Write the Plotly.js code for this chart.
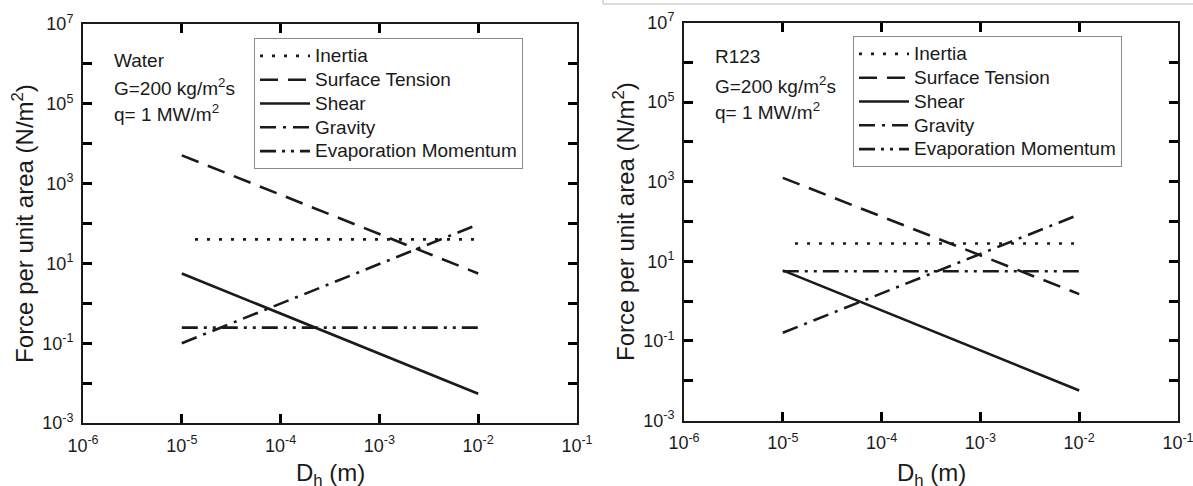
<!DOCTYPE html>
<html>
<head>
<meta charset="utf-8">
<script src="https://cdn.plot.ly/plotly-3.0.1.min.js"></script>
<style>html,body{margin:0;padding:0;background:#fff;}#chart{width:1193px;height:486px;}</style>
</head>
<body>
<div id="chart"></div>
<script>
// ---- data ----
const seriesNames = ["Inertia", "Surface Tension", "Shear", "Gravity", "Evaporation Momentum"];

// Water (left panel)
const waterInertiaX = [1.36e-5, 1e-2];
const waterInertia  = [40, 40];
const waterX        = [1e-5, 1e-2];
const waterSurface  = [5100, 5.6];
const waterShear    = [5.6, 0.0054];
const waterGravity  = [0.1, 95];
const waterEvap     = [0.245, 0.245];

// R123 (right panel)
const r123InertiaX = [1.33e-5, 1e-2];
const r123Inertia  = [28, 28];
const r123X        = [1e-5, 1e-2];
const r123Surface  = [1250, 1.5];
const r123Shear    = [5.9, 0.0057];
const r123Gravity  = [0.16, 150];
const r123Evap     = [5.6, 5.6];

const xTickVals = [1e-6, 1e-5, 1e-4, 1e-3, 1e-2, 1e-1];
const xTickText = ["10<sup>-6</sup>", "10<sup>-5</sup>", "10<sup>-4</sup>", "10<sup>-3</sup>", "10<sup>-2</sup>", "10<sup>-1</sup>"];
const yTickVals = [1e-3, 1e-2, 1e-1, 1e0, 1e1, 1e2, 1e3, 1e4, 1e5, 1e6, 1e7];
const yTickText = ["10<sup>-3</sup>", "", "10<sup>-1</sup>", "", "10<sup>1</sup>", "", "10<sup>3</sup>", "", "10<sup>5</sup>", "", "10<sup>7</sup>"];

const panelNotes = [
  ["Water", "G=200 kg/m<sup>2</sup>s", "q= 1 MW/m<sup>2</sup>"],
  ["R123", "G=200 kg/m<sup>2</sup>s", "q= 1 MW/m<sup>2</sup>"]
];

// ---- styling ----
const FONT = "Liberation Sans, Arial, sans-serif";
const INK = "#1a1a1a";
const dashes = ["3px,9px", "18px,10px", "solid", "16px,7px,3px,7px", "16px,6px,3px,6px,3px,6px"];
const LW = 2.6;
const W = 1193, H = 486;

function minorVals(lo, hi) {
  const v = [];
  for (let e = lo; e < hi; e++) for (let m = 2; m <= 9; m++) v.push(m * Math.pow(10, e));
  return v;
}

function legendName(s) { return '<span style="font-size:19px">' + s + '</span>'; }

function mk(name, x, y, i, xa, ya, leg) {
  return {
    type: "scatter", mode: "lines", name: legendName(name), x: x, y: y,
    xaxis: xa, yaxis: ya, legend: leg,
    line: {color: INK, width: LW, dash: dashes[i]}
  };
}

const traces = [
  mk(seriesNames[0], waterInertiaX, waterInertia, 0, "x", "y", "legend"),
  mk(seriesNames[1], waterX, waterSurface, 1, "x", "y", "legend"),
  mk(seriesNames[2], waterX, waterShear, 2, "x", "y", "legend"),
  mk(seriesNames[3], waterX, waterGravity, 3, "x", "y", "legend"),
  mk(seriesNames[4], waterX, waterEvap, 4, "x", "y", "legend"),
  mk(seriesNames[0], r123InertiaX, r123Inertia, 0, "x2", "y2", "legend2"),
  mk(seriesNames[1], r123X, r123Surface, 1, "x2", "y2", "legend2"),
  mk(seriesNames[2], r123X, r123Shear, 2, "x2", "y2", "legend2"),
  mk(seriesNames[3], r123X, r123Gravity, 3, "x2", "y2", "legend2"),
  mk(seriesNames[4], r123X, r123Evap, 4, "x2", "y2", "legend2")
];

function xAxis(domain, anchor) {
  return {
    type: "log", range: [-6, -1], domain: domain, anchor: anchor,
    showline: true, linecolor: INK, linewidth: 2, mirror: "ticks",
    ticks: "inside", ticklen: 9, tickwidth: 2.5, tickcolor: "#000",
    tickmode: "array", tickvals: xTickVals, ticktext: xTickText,
    tickfont: {family: FONT, size: 18, color: INK}, ticklabelstandoff: 5,
    ticklabeloverflow: "allow",
    showgrid: false, zeroline: false
  };
}
function yAxis(domain, anchor) {
  return {
    type: "log", range: [-3, 7], domain: domain, anchor: anchor,
    showline: true, linecolor: INK, linewidth: 2, mirror: "ticks",
    ticks: "inside", ticklen: 9, tickwidth: 2.5, tickcolor: "#000",
    tickmode: "array", tickvals: yTickVals, ticktext: yTickText,
    tickfont: {family: FONT, size: 18, color: INK}, ticklabelstandoff: 4,
    ticklabeloverflow: "allow",
    showgrid: false, zeroline: false,
    title: {text: "Force per unit area (N/m<sup>2</sup>)", font: {family: FONT, size: 24, color: INK}, standoff: 2}
  };
}
// overlay axes carrying only the minor (2..9) ticks, mirrored inside the frame
function minorAxis(overlay, anchor, range, vals) {
  return {
    type: "log", range: range, overlaying: overlay, anchor: anchor,
    showline: false, mirror: "ticks",
    ticks: "inside", ticklen: 5, tickwidth: 2, tickcolor: "#000",
    tickmode: "array", tickvals: vals, showticklabels: false,
    showgrid: false, zeroline: false
  };
}

const legendStyle = {
  xref: "paper", yref: "paper", xanchor: "left", yanchor: "top",
  bgcolor: "rgba(255,255,255,1)", bordercolor: "#8a8a8a", borderwidth: 1,
  font: {family: FONT, size: 16, color: INK}, itemwidth: 50, tracegroupgap: 0
};

const annotations = [];
const noteX = [112 / W, 713 / W];
const noteY = [[60, 87, 113], [57, 85, 111]];
panelNotes.forEach((lines, p) => {
  lines.forEach((t, k) => {
    annotations.push({
      text: t, xref: "paper", yref: "paper", x: noteX[p], y: 1 - noteY[p][k] / H,
      xanchor: "left", yanchor: "middle", showarrow: false,
      font: {family: FONT, size: 19, color: INK}
    });
  });
});
// x-axis titles, placed like the reference (bottom edge trims the subscript there too)
["x domain", "x2 domain"].forEach(ref => {
  annotations.push({
    text: "D<sub>h</sub> (m)", xref: ref, yref: "paper", x: 0.5, y: 1 - 457 / H,
    xanchor: "center", yanchor: "top", showarrow: false,
    font: {family: FONT, size: 24, color: INK}
  });
});

const layout = {
  width: W, height: H,
  margin: {l: 0, r: 0, t: 0, b: 0},
  paper_bgcolor: "#fff", plot_bgcolor: "#fff",
  font: {family: FONT, color: INK},
  xaxis: xAxis([83 / W, 577 / W], "y"),
  yaxis: yAxis([1 - 423 / H, 1 - 24 / H], "x"),
  xaxis2: xAxis([684 / W, 1178 / W], "y2"),
  yaxis2: yAxis([1 - 420.5 / H, 1 - 22.5 / H], "x2"),
  xaxis3: minorAxis("x", "y", [-6, -1], minorVals(-6, -1)),
  yaxis3: minorAxis("y", "x", [-3, 7], minorVals(-3, 7)),
  xaxis4: minorAxis("x2", "y2", [-6, -1], minorVals(-6, -1)),
  yaxis4: minorAxis("y2", "x2", [-3, 7], minorVals(-3, 7)),
  legend: Object.assign({}, legendStyle, {x: 254 / W, y: 1 - 38 / H}),
  legend2: Object.assign({}, legendStyle, {x: 853 / W, y: 1 - 36 / H}),
  showlegend: true,
  annotations: annotations,
  shapes: [
    {type: "line", xref: "paper", yref: "paper", x0: 603 / W, x1: 1, y0: 1 - 4 / H, y1: 1 - 4 / H, line: {color: "#cfcfcf", width: 1.5}},
    {type: "line", xref: "paper", yref: "paper", x0: 603 / W, x1: 603 / W, y0: 1, y1: 1 - 4 / H, line: {color: "#cfcfcf", width: 1.5}}
  ]
};

Plotly.newPlot("chart", traces, layout, {displayModeBar: false});
</script>
</body>
</html>
